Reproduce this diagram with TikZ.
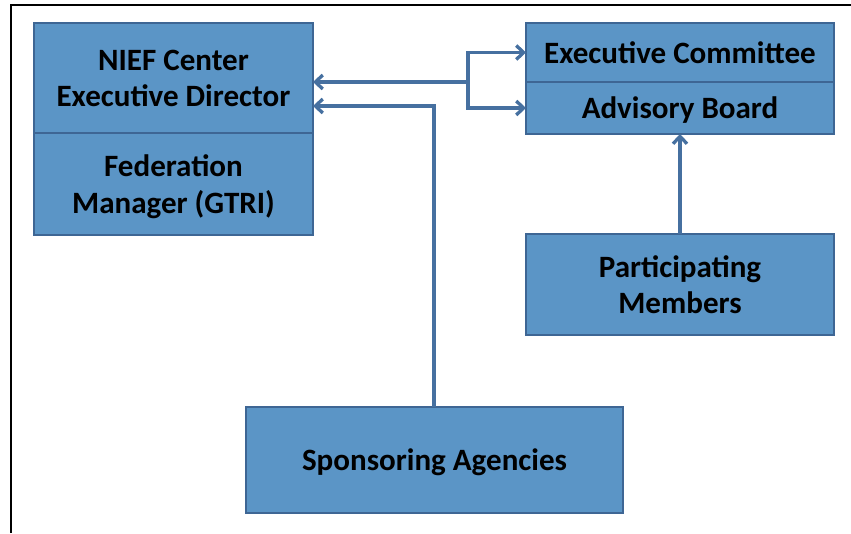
\documentclass[tikz,border=0pt]{standalone}
\usepackage{fontspec}
\setmainfont{Carlito}
\usetikzlibrary{arrows.meta}
\definecolor{boxfill}{RGB}{91,149,198}
\definecolor{boxline}{RGB}{62,102,148}
\definecolor{arrowline}{RGB}{70,112,160}

\begin{document}
\begin{tikzpicture}[x=0.03cm,y=-0.03cm,
    box/.style={draw=boxline, fill=boxfill, line width=0.08cm, inner sep=0pt, outer sep=0pt,
        text depth=0pt, align=center, font=\fontsize{26.5}{31}\selectfont\bfseries},
    link/.style={draw=arrowline, line width=0.1cm, -{Straight Barb[length=0.22cm,width=0.42cm]}}]

    \useasboundingbox (0,0) rectangle (851,533);
    \draw [line width=0.07cm] (11,533) -- (11,5) -- (851,5);

    \node[box, minimum width=8.37cm, minimum height=3.3cm] (director) at (173.5,78) {NIEF Center\\Executive Director};
    \node[box, minimum width=8.37cm, minimum height=3.06cm] (manager) at (173.5,184) {Federation\\Manager (GTRI)};
    \node[box, minimum width=9.24cm, minimum height=1.77cm] (committee) at (680,52.5) {Executive Committee};
    \node[box, minimum width=9.24cm, minimum height=1.56cm] (board) at (680,108) {Advisory Board};
    \node[box, minimum width=9.24cm, minimum height=3.03cm] (members) at (680,284.5) {Participating\\Members};
    \node[box, minimum width=11.31cm, minimum height=3.18cm] (sponsors) at (434.5,460) {Sponsoring Agencies};

    \coordinate (split) at (468,82);
    \coordinate (turn) at (434,106);

    \draw [link] (split) -- (split -| director.east);
    \draw [link] (split) |- (committee.west);
    \draw [link] (split) |- (board.west);
    \draw [link] (sponsors.north -| turn) -- (turn) -- (turn -| director.east);
    \draw [link] (members.north) -- (board.south);
\end{tikzpicture}
\end{document}
